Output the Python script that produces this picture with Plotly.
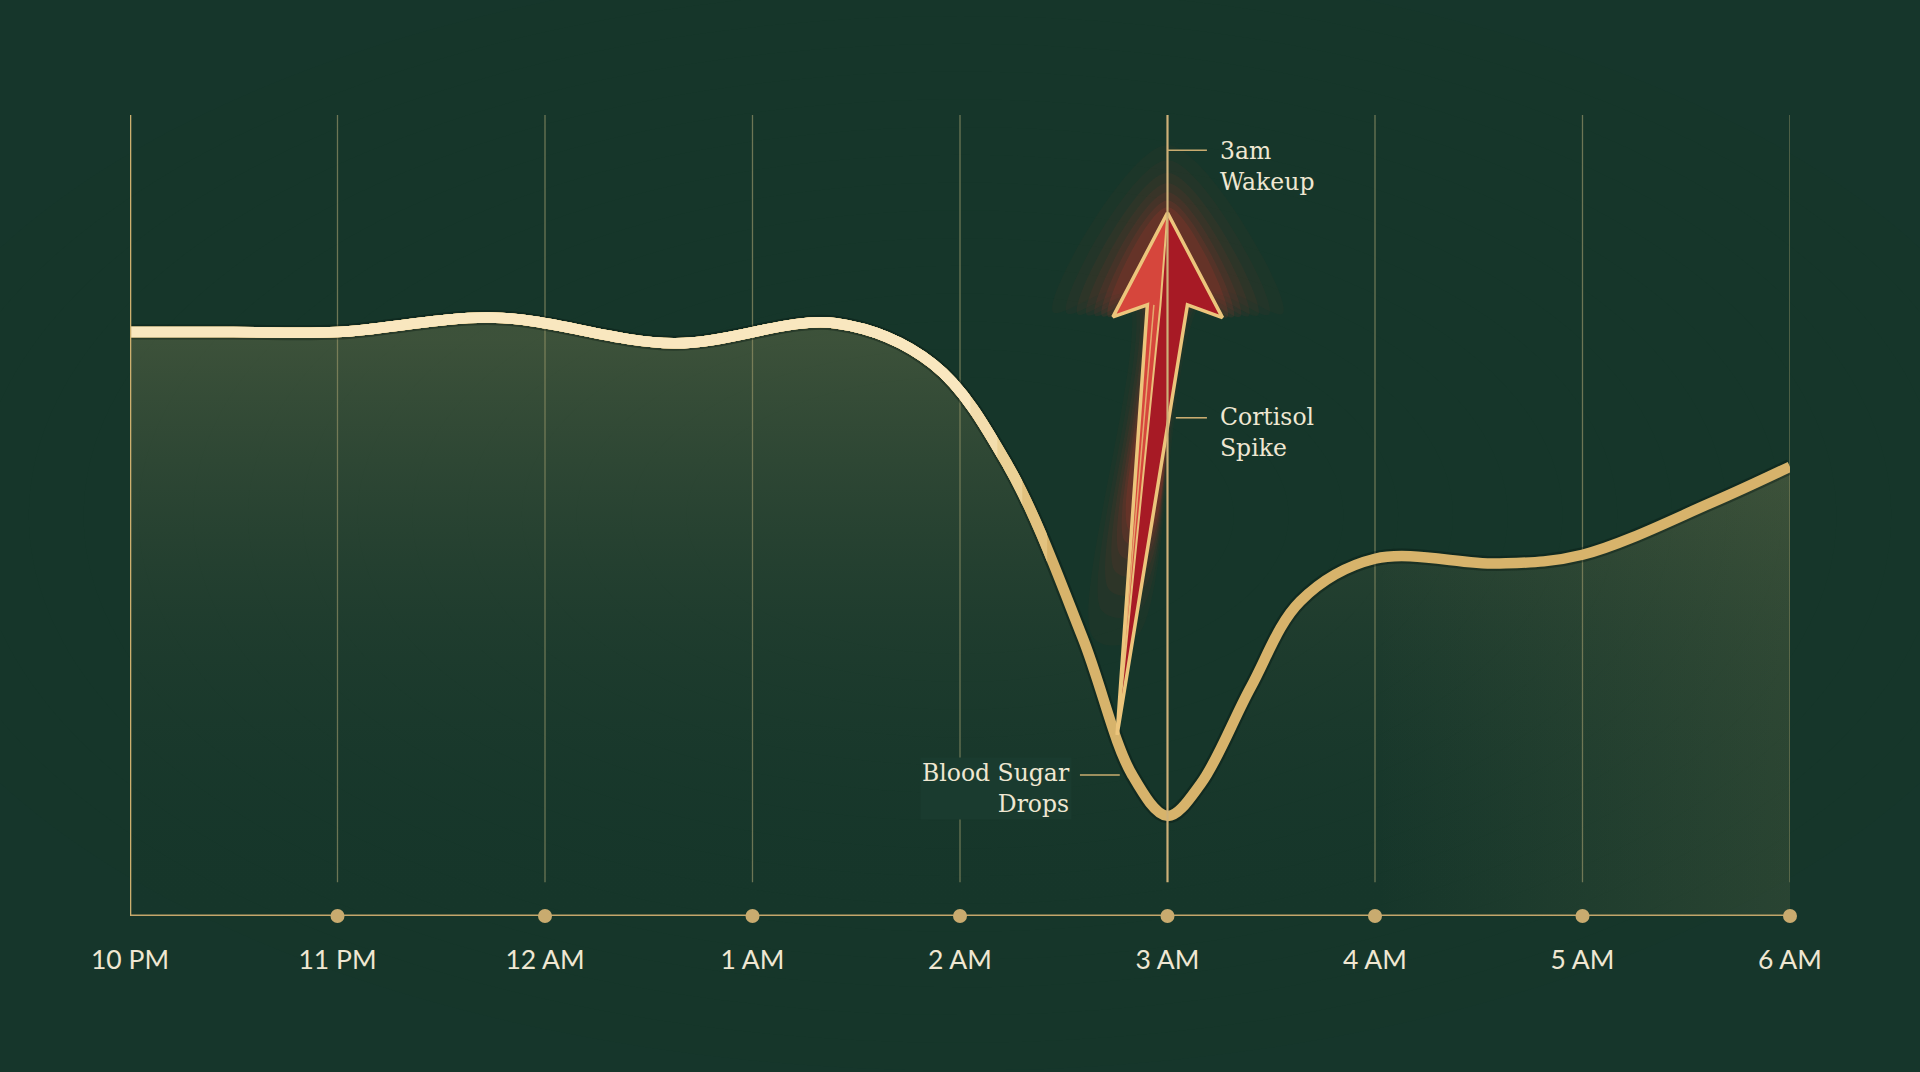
import plotly.graph_objects as go

# ---------------- data ----------------
tick_labels = ["10 PM", "11 PM", "12 AM", "1 AM", "2 AM", "3 AM", "4 AM", "5 AM", "6 AM"]
tick_hours = [0, 1, 2, 3, 4, 5, 6, 7, 8]

# hours since 10 PM
hours = [0, 0.5, 1.0, 1.76, 2.62, 3.4, 3.87, 4.23, 4.59, 4.83, 5.0, 5.16, 5.4, 5.64,
         6.0, 6.6, 7.0, 7.63, 8.0]
# blood sugar level (relative units)
level = [72.9, 72.9, 72.9, 74.7, 71.5, 74.0, 68.9, 56.3, 34.8, 17.6, 12.5, 16.5, 28.5,
         39.3, 44.6, 44.0, 45.1, 51.7, 56.1]

wakeup_hour = 5.0             # 3 AM
cortisol_peak = 87.8          # arrow tip level at 3 AM
arrow_base = (4.757, 22.6)    # point on the falling curve where the arrow starts

annotation_texts = ["3am<br>Wakeup", "Cortisol<br>Spike", "Blood Sugar<br>Drops"]

# ---------------- style ----------------
BG = "#16362b"
GOLD = "#d7b36b"
TEXT = "#efe7d2"
SERIF = "DejaVu Serif"
SANS = "Lato"
Y_TOP = 100
GRID_BOTTOM = 4.2
SMOOTH = 1.0
SPL = dict(shape="spline", smoothing=SMOOTH)

fig = go.Figure()

# soft centre light (vignette)
shapes = []
for i in range(16):
    r = 0.66 - i * 0.033
    shapes.append(dict(type="circle", xref="paper", yref="paper", x0=0.5 - r, x1=0.5 + r,
                       y0=0.5 - r * 1.05, y1=0.5 + r * 1.05, line=dict(width=0),
                       fillcolor="rgba(40,78,62,0.024)", layer="below"))

# area fill under the curve
fig.add_trace(go.Scatter(
    x=hours, y=level, mode="lines", line=dict(width=0, **SPL),
    fill="tozeroy",
    fillgradient=dict(type="vertical",
                      colorscale=[[0, "rgba(24,58,46,0)"], [0.5, "rgba(110,115,80,0.10)"],
                                  [1, "rgba(150,145,95,0.30)"]],
                      start=0, stop=72),
    hoverinfo="skip", showlegend=False))
# extra warm tint on the right part
fig.add_trace(go.Scatter(
    x=hours, y=level, mode="lines", line=dict(width=0, **SPL),
    fill="tozeroy",
    fillgradient=dict(type="horizontal",
                      colorscale=[[0, "rgba(170,160,100,0)"], [1, "rgba(170,160,100,0.13)"]],
                      start=6, stop=8),
    hoverinfo="skip", showlegend=False))

# shadow of curve
fig.add_trace(go.Scatter(
    x=hours, y=level, mode="lines",
    line=dict(width=15, color="rgba(5,20,15,0.35)", **SPL),
    hoverinfo="skip", showlegend=False, cliponaxis=False))

# curve: gold everywhere, cream tones clipped to the left part (via hidden axes)
fig.add_trace(go.Scatter(
    x=hours, y=level, mode="lines", line=dict(width=10.5, color=GOLD, **SPL),
    hoverinfo="skip", showlegend=False, cliponaxis=False))
# drawn in axis order x2 -> x5, the last one ends on top
cream_steps = [(4.42, "#e2c27f", "x2"), (4.3, "#ebd196", "x3"),
               (4.18, "#f3ddad", "x4"), (4.05, "#f9e7bf", "x5")]
for _, col, ax in cream_steps:
    fig.add_trace(go.Scatter(
        x=hours, y=level, mode="lines", line=dict(width=10.5, color=col, **SPL),
        xaxis=ax, yaxis="y", hoverinfo="skip", showlegend=False))

# ---------------- arrow (cortisol spike) ----------------
bx, by = arrow_base
tx, ty = wakeup_hour, cortisol_peak
lw = (tx - 0.263, ty - 13.0)     # left wing
ln = (tx - 0.097, ty - 11.5)     # left notch
rn = (tx + 0.096, ty - 11.5)     # right notch
rw = (tx + 0.265, ty - 13.1)     # right wing
rd = (tx - 0.034, ty - 11.5)     # ridge
outline = [(tx, ty), rw, rn, (bx, by), ln, lw, (tx, ty)]


def along(p, q, t):
    return (p[0] + (q[0] - p[0]) * t, p[1] + (q[1] - p[1]) * t)


# glow around head and upper shaft
head = [(tx, ty), rw, rn, along(rn, (bx, by), 0.5), along(ln, (bx, by), 0.5), ln, lw,
        (tx, ty)]
cx, cy = tx, ty - 14
for s, op in [(2.1, 0.03), (1.85, 0.04), (1.65, 0.05), (1.48, 0.06), (1.33, 0.08),
              (1.2, 0.10), (1.09, 0.12)]:
    gx = [cx + (p[0] - cx) * s for p in head]
    gy = [cy + (p[1] - cy) * (1 + (s - 1) * 0.55) for p in head]
    fig.add_trace(go.Scatter(x=gx, y=gy, mode="lines", fill="toself",
                             fillcolor=f"rgba(230,55,45,{op})",
                             line=dict(width=0, shape="spline"),
                             hoverinfo="skip", showlegend=False, cliponaxis=False))

left_poly = [(tx, ty), lw, ln, (bx, by), rd, (tx, ty)]
right_poly = [(tx, ty), rd, (bx, by), rn, rw, (tx, ty)]
fig.add_trace(go.Scatter(x=[p[0] for p in left_poly], y=[p[1] for p in left_poly],
                         mode="lines", fill="toself", fillcolor="#d6463c",
                         line=dict(width=0), hoverinfo="skip", showlegend=False,
                         cliponaxis=False))
fig.add_trace(go.Scatter(x=[p[0] for p in right_poly], y=[p[1] for p in right_poly],
                         mode="lines", fill="toself", fillcolor="#a71a25",
                         line=dict(width=0), hoverinfo="skip", showlegend=False,
                         cliponaxis=False))
# inner lines
fig.add_trace(go.Scatter(x=[bx, rd[0], tx], y=[by, rd[1], ty], mode="lines",
                         line=dict(width=2, color="#e9c07a"), hoverinfo="skip",
                         showlegend=False, cliponaxis=False))
fig.add_trace(go.Scatter(x=[bx, (ln[0] + rd[0]) / 2], y=[by, ln[1]], mode="lines",
                         line=dict(width=1.5, color="rgba(233,192,122,0.8)"),
                         hoverinfo="skip", showlegend=False, cliponaxis=False))
# outline
fig.add_trace(go.Scatter(x=[p[0] for p in outline], y=[p[1] for p in outline],
                         mode="lines", line=dict(width=3.5, color="#ecc57c"),
                         hoverinfo="skip", showlegend=False, cliponaxis=False))

# axis dots
fig.add_trace(go.Scatter(x=tick_hours[1:], y=[0] * 8, mode="markers",
                         marker=dict(size=14, color="#c9ab6f"), hoverinfo="skip",
                         showlegend=False, cliponaxis=False))

# ---------------- shapes ----------------
for h in tick_hours[1:]:
    if h == wakeup_hour:
        continue
    shapes.append(dict(type="line", xref="x", yref="y", x0=h, x1=h, y0=GRID_BOTTOM,
                       y1=Y_TOP, line=dict(color="rgba(196,182,128,0.5)", width=1.3),
                       layer="below"))
# 3 AM line
shapes.append(dict(type="line", xref="x", yref="y", x0=wakeup_hour, x1=wakeup_hour,
                   y0=GRID_BOTTOM, y1=Y_TOP, line=dict(color="#cdb078", width=2.2),
                   layer="above"))
# left axis line
shapes.append(dict(type="line", xref="x", yref="y", x0=0, x1=0, y0=0, y1=Y_TOP,
                   line=dict(color="#cdb06f", width=2.6), layer="above"))
# bottom axis line
shapes.append(dict(type="line", xref="x", yref="y", x0=0, x1=8, y0=0, y1=0,
                   line=dict(color="#c4a66b", width=3), layer="below"))

# label leader ticks
shapes.append(dict(type="line", xref="x", yref="y", x0=wakeup_hour, x1=5.19,
                   y0=95.6, y1=95.6, line=dict(color="#c9ac70", width=1.6)))
shapes.append(dict(type="line", xref="x", yref="y", x0=5.04, x1=5.19,
                   y0=62.2, y1=62.2, line=dict(color="#c9ac70", width=1.6)))
shapes.append(dict(type="line", xref="x", yref="y", x0=4.578, x1=4.77,
                   y0=17.6, y1=17.6, line=dict(color="#c9ac70", width=1.6)))

annotations = [
    dict(x=5.243, y=93.6, text=annotation_texts[0], xanchor="left", yanchor="middle",
         align="left", showarrow=False, font=dict(family=SERIF, size=23.5, color=TEXT)),
    dict(x=5.243, y=60.4, text=annotation_texts[1], xanchor="left", yanchor="middle",
         align="left", showarrow=False, font=dict(family=SERIF, size=23.5, color=TEXT)),
    dict(x=4.54, y=15.9, text=annotation_texts[2], xanchor="right", yanchor="middle",
         align="right", showarrow=False, font=dict(family=SERIF, size=23.5, color=TEXT),
         bgcolor="#1a3b2f"),
]

hidden = dict(visible=False, showgrid=False, zeroline=False, fixedrange=True, anchor="y")
layout_axes = {}
for lim, _, ax in cream_steps:
    layout_axes["xaxis" + ax[1:]] = dict(domain=[0, lim / 8], range=[0, lim], **hidden)

fig.update_layout(
    width=1920, height=1072,
    margin=dict(l=130, r=130, t=115, b=156),
    paper_bgcolor=BG, plot_bgcolor="rgba(0,0,0,0)",
    shapes=shapes, annotations=annotations, showlegend=False,
    xaxis=dict(range=[0, 8], tickvals=tick_hours, ticktext=tick_labels,
               showgrid=False, zeroline=False, showline=False, ticks="",
               tickfont=dict(family=SANS, size=26.5, color=TEXT),
               ticklabelstandoff=25, fixedrange=True),
    yaxis=dict(range=[0, Y_TOP], showgrid=False, zeroline=False, showline=False,
               showticklabels=False, ticks="", fixedrange=True),
    **layout_axes,
)

fig.write_html(
    "out.html",
    config={"displayModeBar": False},
    post_script="document.body.style.margin='0';document.body.style.overflow='hidden';"
                "document.body.style.background='" + BG + "';",
)
